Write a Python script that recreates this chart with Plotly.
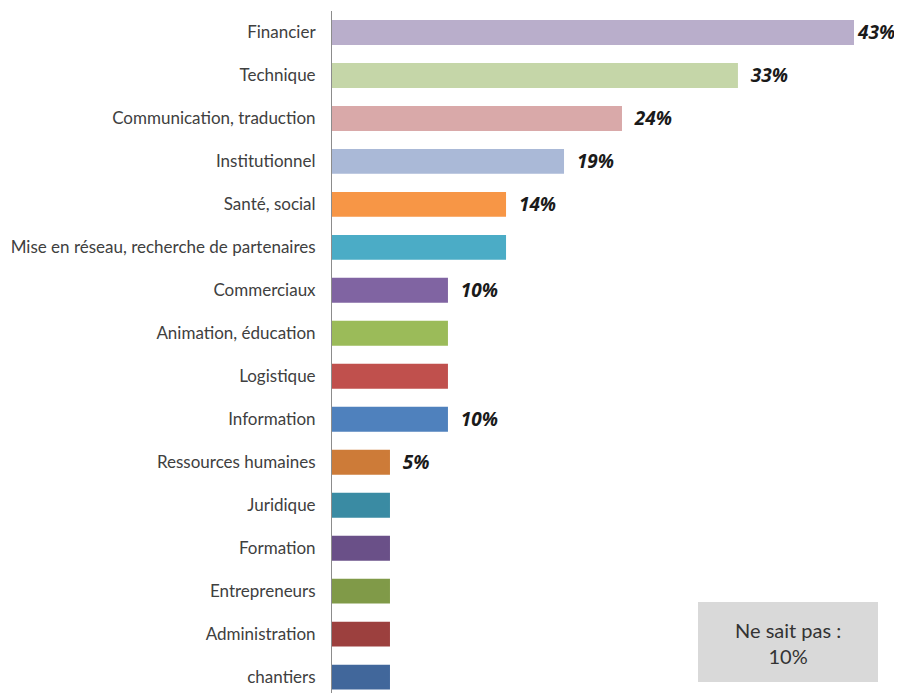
import plotly.graph_objects as go

categories = ["Financier", "Technique", "Communication, traduction", "Institutionnel",
              "Santé, social", "Mise en réseau, recherche de partenaires", "Commerciaux",
              "Animation, éducation", "Logistique", "Information", "Ressources humaines",
              "Juridique", "Formation", "Entrepreneurs", "Administration", "chantiers"]
values = [42.86, 33.33, 23.81, 19.05, 14.29, 14.29, 9.52, 9.52, 9.52, 9.52, 4.76,
          4.76, 4.76, 4.76, 4.76, 4.76]
shown_labels = ["43%", "  33%", "  24%", "  19%", "  14%", "", "  10%", "", "", "  10%", "  5%",
                "", "", "", "", ""]
colors = ["#B9AECB", "#C5D6A8", "#D9A9A9", "#AAB9D7", "#F79646", "#4BACC6", "#8064A2",
          "#9BBB59", "#C0504D", "#4F81BD", "#CD7B38", "#3A8BA3", "#6A5088", "#809A48",
          "#9C403E", "#41679B"]
box_text = "Ne sait pas :<br>10%"

# page body has an 8px margin, so the figure is offset by 8px on screen
OFF = 8
L, T = 332 - OFF, 11 - OFF
W, H = 902 - OFF, 693 - OFF
PW, PH = W - L, H - T

fig = go.Figure(go.Bar(
    y=categories, x=values, orientation="h",
    marker=dict(color=colors, line=dict(width=0)),
    width=0.58,
    text=shown_labels, textposition="outside", cliponaxis=False,
    constraintext="none",
    textfont=dict(family="Open Sans", size=19, color="#1a1a1a", weight="bold", style="italic"),
))

fig.update_layout(
    width=W, height=H,
    margin=dict(l=L, r=0, t=T, b=0, autoexpand=False),
    plot_bgcolor="white", paper_bgcolor="white",
    showlegend=False,
    xaxis=dict(range=[0, 46.8], visible=False),
    yaxis=dict(
        type="category", categoryorder="array", categoryarray=categories,
        range=[15.37, -0.5],
        showline=True, linecolor="#8c8c8c", linewidth=1,
        showgrid=False, ticks="", ticklabelstandoff=12,
        tickfont=dict(family="Lato", size=17, color="#404040"),
    ),
    font=dict(family="Lato"),
)

def px_x(x):
    return (x - OFF - L) / PW

def px_y(y):
    return 1 - (y - OFF - T) / PH

fig.add_shape(type="rect", xref="paper", yref="paper",
              x0=px_x(698), x1=px_x(878), y0=px_y(682), y1=px_y(602),
              fillcolor="#D9D9D9", line=dict(width=0), layer="above")
fig.add_annotation(xref="paper", yref="paper",
                   x=px_x(788), y=px_y(643),
                   xanchor="center", yanchor="middle",
                   text=box_text, showarrow=False, align="center",
                   font=dict(family="Lato", size=20, color="#333333"))

fig.write_html("out.html")
